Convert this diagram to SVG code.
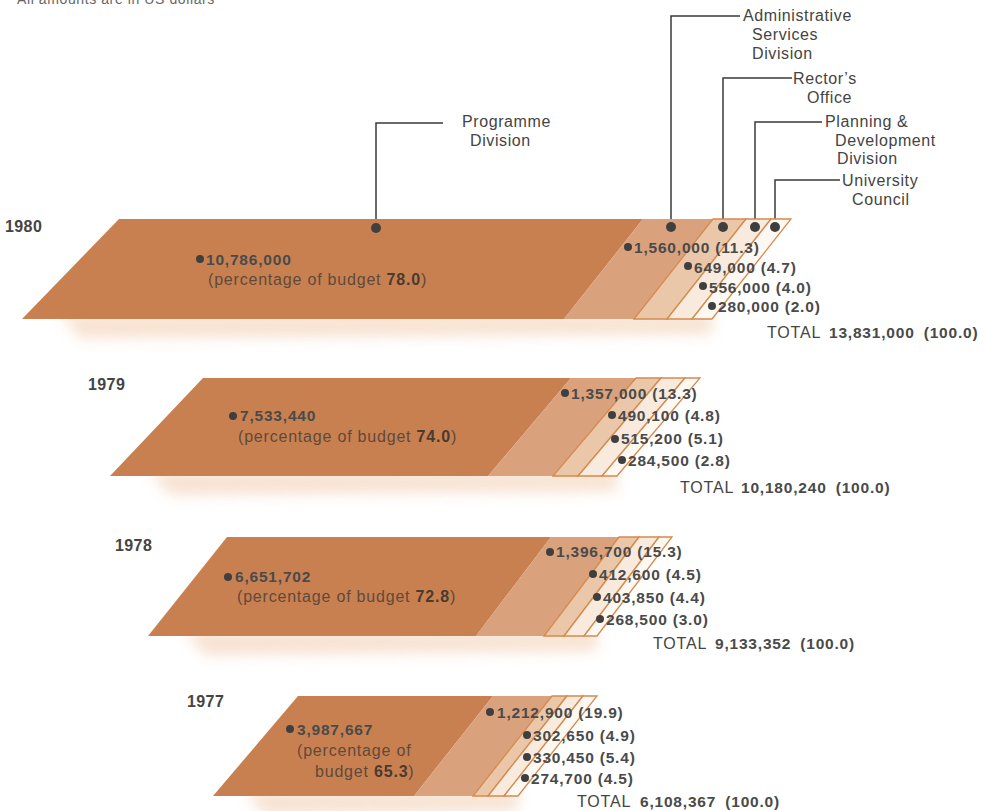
<svg xmlns="http://www.w3.org/2000/svg" width="985" height="811" viewBox="0 0 985 811">
<defs>
<filter id="glow" x="-20%" y="-150%" width="140%" height="400%"><feGaussianBlur stdDeviation="7"/></filter>
<style>
text{font-family:"Liberation Sans",Arial,sans-serif}
.yr{font-size:16px;font-weight:bold;fill:#444;letter-spacing:0.4px}
.lbl{font-size:16px;fill:#444;letter-spacing:0.6px}
.num{font-size:15.5px;font-weight:bold;fill:#4a4a4a;letter-spacing:0.8px}
.wide{word-spacing:4px}
.pct{font-size:16px;fill:#5e4a3c;letter-spacing:0.8px}
.pct tspan{font-weight:bold;fill:#4a3b30}
.tot{font-size:16px;fill:#444;letter-spacing:0.8px}
.s0{fill:#c98050}
.s1{fill:#d9a17c}
.s2{fill:#eac7a9;stroke:#d8894c;stroke-width:1.3}
.s3{fill:#f8eadd;stroke:#d8894c;stroke-width:1.3}
.s4{fill:#fdf8f2;stroke:#d8894c;stroke-width:1.3}
.sh{fill:#f2cfb2;opacity:0.6;filter:url(#glow)}
.dot{fill:#3f3f3f}
.con{fill:none;stroke:#3a3a3a;stroke-width:1.5}
</style>
</defs>
<rect width="985" height="811" fill="#ffffff"/>
<text class="lbl" x="17" y="4" style="font-size:14px;fill:#666">All amounts are in US dollars</text>

<g id="connectors">
<path class="con" d="M376,228 V123 H443"/>
<path class="con" d="M671,227 V16 H740"/>
<path class="con" d="M723,227 V78 H792"/>
<path class="con" d="M755,227 V122 H822"/>
<path class="con" d="M775,227 V180 H840"/>
</g>

<g id="bar-1980">
<polygon class="sh" points="60,314 712,314 712,334 80,338"/>
<polygon class="s0" points="119,219 643,219 564,319 22,319"/>
<polygon class="s1" points="643,219 713,219 634,319 564,319"/>
<polygon class="s2" points="713,219 746,219 667,319 634,319"/>
<polygon class="s3" points="746,219 771,219 692,319 667,319"/>
<polygon class="s4" points="771,219 791,219 712,319 692,319"/>
<text class="yr" x="5" y="232">1980</text>
<circle class="dot" cx="200" cy="259" r="4"/>
<text class="num" x="206" y="265">10,786,000</text>
<text class="pct" x="208" y="285">(percentage of budget <tspan>78.0</tspan>)</text>
<circle class="dot" cx="628" cy="247" r="4"/><text class="num" x="634" y="253">1,560,000 (11.3)</text>
<circle class="dot" cx="688" cy="266" r="4"/><text class="num" x="694" y="273">649,000 (4.7)</text>
<circle class="dot" cx="703" cy="286" r="4"/><text class="num" x="709" y="293">556,000 (4.0)</text>
<circle class="dot" cx="712" cy="306" r="4"/><text class="num" x="718" y="312">280,000 (2.0)</text>
<text class="tot" x="767" y="338">TOTAL</text>
<text class="num wide" x="829" y="338">13,831,000 (100.0)</text>
</g>

<g id="label-programme">
<circle class="dot" cx="376" cy="228" r="5"/>
<text class="lbl" x="462" y="127">Programme</text>
<text class="lbl" x="470" y="146">Division</text>
</g>
<g id="label-administrative">
<circle class="dot" cx="671" cy="227" r="5"/>
<text class="lbl" x="743" y="21">Administrative</text>
<text class="lbl" x="752" y="40">Services</text>
<text class="lbl" x="752" y="59">Division</text>
</g>
<g id="label-rector">
<circle class="dot" cx="723" cy="227" r="5"/>
<text class="lbl" x="793" y="84">Rector’s</text>
<text class="lbl" x="807" y="103">Office</text>
</g>
<g id="label-planning">
<circle class="dot" cx="755" cy="227" r="5"/>
<text class="lbl" x="825" y="127">Planning &amp;</text>
<text class="lbl" x="835" y="146">Development</text>
<text class="lbl" x="837" y="164">Division</text>
</g>
<g id="label-council">
<circle class="dot" cx="775" cy="227" r="5"/>
<text class="lbl" x="842" y="186">University</text>
<text class="lbl" x="852" y="205">Council</text>
</g>

<g id="bar-1979">
<polygon class="sh" points="150,471 617,471 617,491 170,495"/>
<polygon class="s0" points="203,378 571,378 488,476 110,476"/>
<polygon class="s1" points="571,378 636,378 553,476 488,476"/>
<polygon class="s2" points="636,378 661,378 578,476 553,476"/>
<polygon class="s3" points="661,378 685,378 602,476 578,476"/>
<polygon class="s4" points="685,378 700,378 617,476 602,476"/>
<text class="yr" x="88" y="390">1979</text>
<circle class="dot" cx="233" cy="416" r="4"/>
<text class="num" x="240" y="421">7,533,440</text>
<text class="pct" x="238" y="442">(percentage of budget <tspan>74.0</tspan>)</text>
<circle class="dot" cx="565" cy="393" r="4"/><text class="num" x="571" y="399">1,357,000 (13.3)</text>
<circle class="dot" cx="612" cy="415" r="4"/><text class="num" x="618" y="421">490,100 (4.8)</text>
<circle class="dot" cx="615" cy="439" r="4"/><text class="num" x="621" y="444">515,200 (5.1)</text>
<circle class="dot" cx="622" cy="460" r="4"/><text class="num" x="628" y="466">284,500 (2.8)</text>
<text class="tot" x="680" y="493">TOTAL</text>
<text class="num wide" x="741" y="493">10,180,240 (100.0)</text>
</g>

<g id="bar-1978">
<polygon class="sh" points="185,631 597,631 597,651 205,655"/>
<polygon class="s0" points="227,537 551,537 476,636 148,636"/>
<polygon class="s1" points="551,537 619,537 544,636 476,636"/>
<polygon class="s2" points="619,537 639,537 564,636 544,636"/>
<polygon class="s3" points="639,537 659,537 584,636 564,636"/>
<polygon class="s4" points="659,537 672,537 597,636 584,636"/>
<text class="yr" x="115" y="551">1978</text>
<circle class="dot" cx="228" cy="577" r="4"/>
<text class="num" x="235" y="582">6,651,702</text>
<text class="pct" x="237" y="602">(percentage of budget <tspan>72.8</tspan>)</text>
<circle class="dot" cx="550" cy="552" r="4"/><text class="num" x="556" y="557">1,396,700 (15.3)</text>
<circle class="dot" cx="593" cy="574" r="4"/><text class="num" x="599" y="580">412,600 (4.5)</text>
<circle class="dot" cx="597" cy="597" r="4"/><text class="num" x="603" y="603">403,850 (4.4)</text>
<circle class="dot" cx="600" cy="619" r="4"/><text class="num" x="606" y="625">268,500 (3.0)</text>
<text class="tot" x="653" y="649">TOTAL</text>
<text class="num wide" x="715" y="649">9,133,352 (100.0)</text>
</g>

<g id="bar-1977">
<polygon class="sh" points="245,791 518,791 518,811 265,815"/>
<polygon class="s0" points="298,696 493,696 414,796 213,796"/>
<polygon class="s1" points="493,696 552,696 473,796 414,796"/>
<polygon class="s2" points="552,696 567,696 488,796 473,796"/>
<polygon class="s3" points="567,696 583,696 504,796 488,796"/>
<polygon class="s4" points="583,696 597,696 518,796 504,796"/>
<text class="yr" x="187" y="707">1977</text>
<circle class="dot" cx="290" cy="729" r="4"/>
<text class="num" x="297" y="735">3,987,667</text>
<text class="pct" x="297" y="756">(percentage of</text>
<text class="pct" x="315" y="777">budget <tspan>65.3</tspan>)</text>
<circle class="dot" cx="490" cy="712" r="4"/><text class="num" x="497" y="718">1,212,900 (19.9)</text>
<circle class="dot" cx="527" cy="735" r="4"/><text class="num" x="533" y="741">302,650 (4.9)</text>
<circle class="dot" cx="527" cy="757" r="4"/><text class="num" x="533" y="763">330,450 (5.4)</text>
<circle class="dot" cx="525" cy="778" r="4"/><text class="num" x="531" y="784">274,700 (4.5)</text>
<text class="tot" x="577" y="807">TOTAL</text>
<text class="num wide" x="640" y="807">6,108,367 (100.0)</text>
</g>
</svg>
